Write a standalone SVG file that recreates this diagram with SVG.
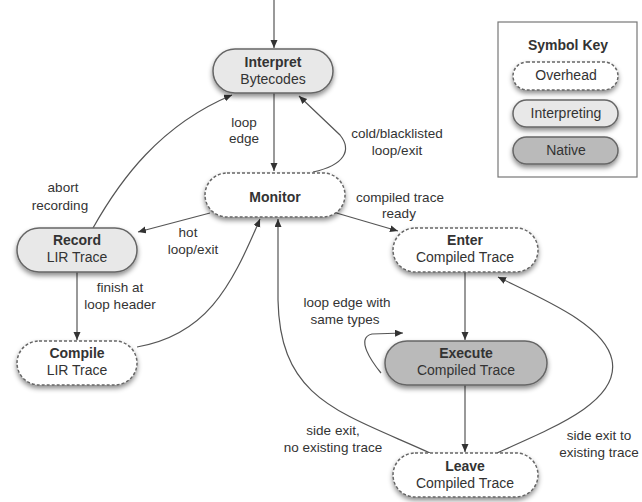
<svg xmlns="http://www.w3.org/2000/svg" width="642" height="502" viewBox="0 0 642 502">
<defs>
<filter id="sh" x="-20%" y="-30%" width="140%" height="180%">
<feDropShadow dx="0" dy="3" stdDeviation="2.5" flood-color="#000" flood-opacity="0.45"/>
</filter>
<marker id="ah" markerUnits="userSpaceOnUse" markerWidth="10" markerHeight="8" refX="8" refY="3.5" orient="auto">
<path d="M0,0 L8,3.5 L0,7 z" fill="#333"/>
</marker>
</defs>
<style>
.ovh{fill:#fff;stroke:#666;stroke-width:1.5;stroke-dasharray:3 2;filter:url(#sh)}
.int{fill:#e8e8e8;stroke:#666;stroke-width:1.5;filter:url(#sh)}
.nat{fill:#bababa;stroke:#666;stroke-width:1.5;filter:url(#sh)}
text{font-family:"Liberation Sans",Arial,sans-serif;font-size:14px;fill:#333;text-anchor:middle}
.b{font-weight:bold}
.lb{font-size:13.5px}
#edges path{fill:none;stroke:#555;stroke-width:1.2;marker-end:url(#ah)}
</style>
<rect width="642" height="502" fill="#fff"/>
<g id="edges">
<path d="M274,0 L274,48"/>
<path d="M274,93 L274,171"/>
<path d="M313,172 C345,165 352,150 340,135 L299,96"/>
<path d="M93,228 C120,180 160,125 232,95"/>
<path d="M210,213 L138,232"/>
<path d="M77,272 L77,340"/>
<path d="M137,347 C205,335 230,290 260,219"/>
<path d="M430,453 C340,412 280,400 278,300 L278,219"/>
<path d="M333,212 L398,231"/>
<path d="M465,272 L465,340"/>
<path d="M381,373 C372,362 355,338 372,334 L403,333"/>
<path d="M465,385 L465,452"/>
<path d="M497,453 C560,425 620,400 612,360 C605,325 545,300 498,277"/>
</g>
<g id="edge-labels" class="lb">
<text class="lb" x="244" y="127">loop</text>
<text class="lb" x="244" y="143">edge</text>
<text class="lb" x="397" y="138">cold/blacklisted</text>
<text class="lb" x="397" y="155">loop/exit</text>
<text class="lb" x="400" y="202">compiled trace</text>
<text class="lb" x="399" y="218">ready</text>
<text class="lb" x="63" y="192">abort</text>
<text class="lb" x="60" y="210">recording</text>
<text class="lb" x="188" y="237">hot</text>
<text class="lb" x="193" y="254">loop/exit</text>
<text class="lb" x="120" y="292">finish at</text>
<text class="lb" x="120" y="309">loop header</text>
<text class="lb" x="347" y="307">loop edge with</text>
<text class="lb" x="345" y="324">same types</text>
<text class="lb" x="333" y="435">side exit,</text>
<text class="lb" x="333" y="452">no existing trace</text>
<text class="lb" x="599" y="440">side exit to</text>
<text class="lb" x="599" y="457">existing trace</text>
</g>
<g id="interpret">
<rect class="int" x="213" y="49" width="120" height="44" rx="22"/>
<text class="b" x="273" y="67">Interpret</text>
<text x="273" y="84">Bytecodes</text>
</g>
<g id="monitor">
<rect class="ovh" x="205" y="173" width="140" height="44" rx="22"/>
<text class="b" x="275" y="202">Monitor</text>
</g>
<g id="record">
<rect class="int" x="17" y="228" width="120" height="44" rx="22"/>
<text class="b" x="77" y="245">Record</text>
<text x="77" y="262">LIR Trace</text>
</g>
<g id="compile">
<rect class="ovh" x="17" y="341" width="120" height="44" rx="22"/>
<text class="b" x="77" y="358">Compile</text>
<text x="77" y="375">LIR Trace</text>
</g>
<g id="enter">
<rect class="ovh" x="393" y="228" width="145" height="44" rx="22"/>
<text class="b" x="465" y="245">Enter</text>
<text x="465" y="262">Compiled Trace</text>
</g>
<g id="execute">
<rect class="nat" x="385" y="341" width="162" height="44" rx="22"/>
<text class="b" x="466" y="358">Execute</text>
<text x="466" y="375">Compiled Trace</text>
</g>
<g id="leave">
<rect class="ovh" x="393" y="453" width="145" height="44" rx="22"/>
<text class="b" x="465" y="471">Leave</text>
<text x="465" y="488">Compiled Trace</text>
</g>
<g id="symbol-key">
<rect x="498" y="22" width="139" height="155" fill="#fff" stroke="#777" stroke-width="1.2"/>
<text class="b" x="568" y="50">Symbol Key</text>
<rect class="ovh" x="513" y="62" width="105" height="28" rx="14"/>
<text x="566" y="80">Overhead</text>
<rect class="int" x="513" y="100" width="105" height="27" rx="13.5"/>
<text x="566" y="118">Interpreting</text>
<rect class="nat" x="513" y="137" width="105" height="27" rx="13.5"/>
<text x="566" y="155">Native</text>
</g>
</svg>
